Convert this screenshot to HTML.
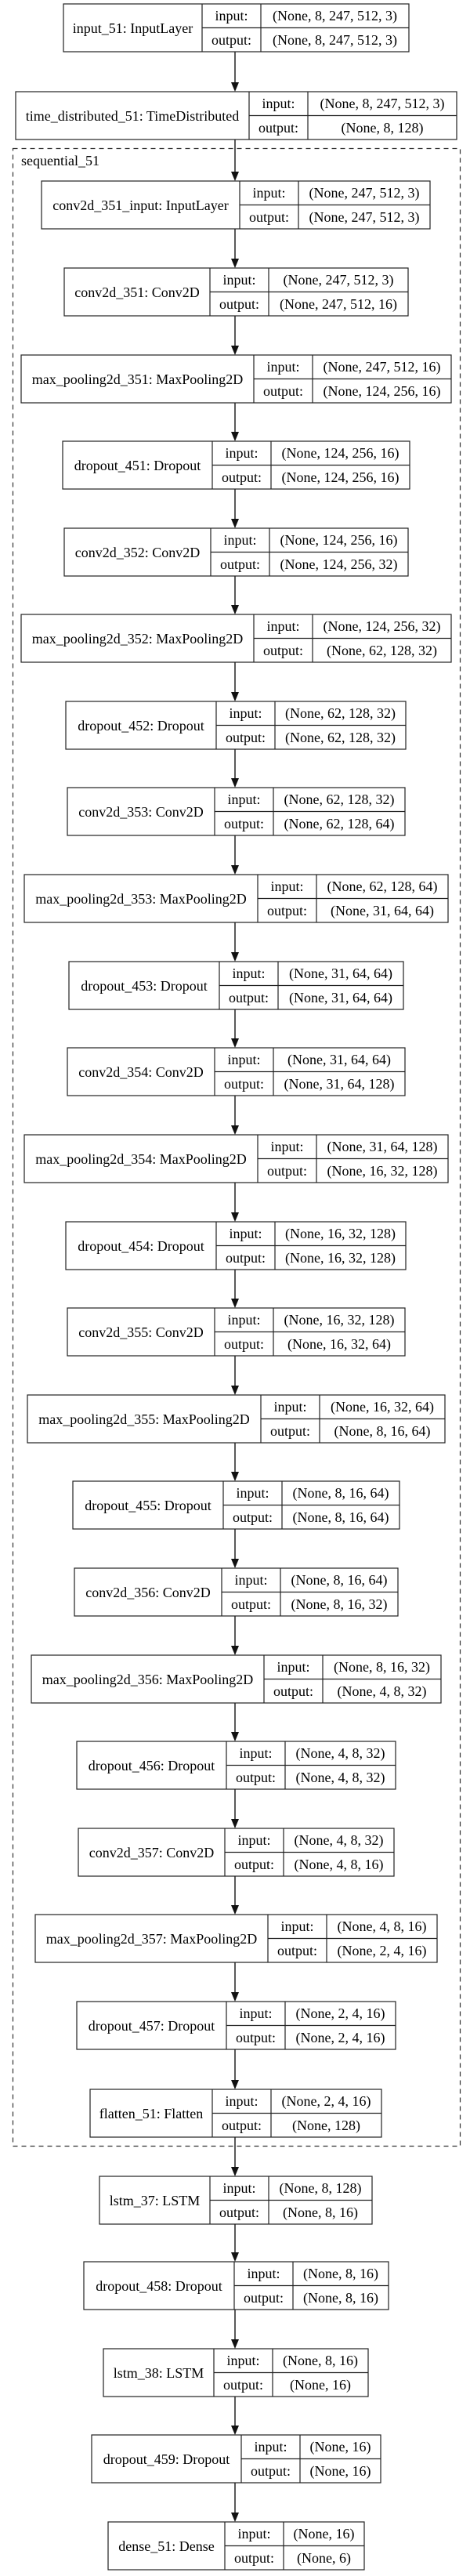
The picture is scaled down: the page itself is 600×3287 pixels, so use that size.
<!DOCTYPE html>
<html><head><meta charset="utf-8"><style>
html,body{margin:0;padding:0;background:#fff}
svg{display:block}
text{font-family:"Liberation Serif",serif;font-size:18px;fill:#000}
.b{fill:#fff;stroke:#222;stroke-width:1.2}
.l{stroke:#222;stroke-width:1.2}
.a{stroke:#222;stroke-width:1.5}
</style></head><body>
<svg width="600" height="3287" viewBox="0 0 600 3287" xmlns="http://www.w3.org/2000/svg">
<rect x="16.5" y="189.5" width="571" height="2549" fill="none" stroke="#333" stroke-width="1.2" stroke-dasharray="6,5"/>
<text x="27" y="211" text-anchor="start">sequential_51</text>

<!-- arrows -->
<g class="arrows">
<line class="a" x1="300" y1="66" x2="300" y2="105"/><polygon points="295,105 305,105 300,117" fill="#111"/>
<line class="a" x1="300" y1="178" x2="300" y2="219"/><polygon points="295,219 305,219 300,231" fill="#111"/>
<line class="a" x1="300" y1="292" x2="300" y2="330"/><polygon points="295,330 305,330 300,342" fill="#111"/>
<line class="a" x1="300" y1="403" x2="300" y2="441"/><polygon points="295,441 305,441 300,453" fill="#111"/>
<line class="a" x1="300" y1="514" x2="300" y2="551"/><polygon points="295,551 305,551 300,563" fill="#111"/>
<line class="a" x1="300" y1="624" x2="300" y2="662"/><polygon points="295,662 305,662 300,674" fill="#111"/>
<line class="a" x1="300" y1="735" x2="300" y2="772"/><polygon points="295,772 305,772 300,784" fill="#111"/>
<line class="a" x1="300" y1="845" x2="300" y2="883"/><polygon points="295,883 305,883 300,895" fill="#111"/>
<line class="a" x1="300" y1="956" x2="300" y2="993"/><polygon points="295,993 305,993 300,1005" fill="#111"/>
<line class="a" x1="300" y1="1066" x2="300" y2="1104"/><polygon points="295,1104 305,1104 300,1116" fill="#111"/>
<line class="a" x1="300" y1="1177" x2="300" y2="1215"/><polygon points="295,1215 305,1215 300,1227" fill="#111"/>
<line class="a" x1="300" y1="1288" x2="300" y2="1325"/><polygon points="295,1325 305,1325 300,1337" fill="#111"/>
<line class="a" x1="300" y1="1398" x2="300" y2="1436"/><polygon points="295,1436 305,1436 300,1448" fill="#111"/>
<line class="a" x1="300" y1="1509" x2="300" y2="1547"/><polygon points="295,1547 305,1547 300,1559" fill="#111"/>
<line class="a" x1="300" y1="1620" x2="300" y2="1657"/><polygon points="295,1657 305,1657 300,1669" fill="#111"/>
<line class="a" x1="300" y1="1730" x2="300" y2="1768"/><polygon points="295,1768 305,1768 300,1780" fill="#111"/>
<line class="a" x1="300" y1="1841" x2="300" y2="1878"/><polygon points="295,1878 305,1878 300,1890" fill="#111"/>
<line class="a" x1="300" y1="1951" x2="300" y2="1989"/><polygon points="295,1989 305,1989 300,2001" fill="#111"/>
<line class="a" x1="300" y1="2062" x2="300" y2="2100"/><polygon points="295,2100 305,2100 300,2112" fill="#111"/>
<line class="a" x1="300" y1="2173" x2="300" y2="2210"/><polygon points="295,2210 305,2210 300,2222" fill="#111"/>
<line class="a" x1="300" y1="2283" x2="300" y2="2321"/><polygon points="295,2321 305,2321 300,2333" fill="#111"/>
<line class="a" x1="300" y1="2394" x2="300" y2="2431"/><polygon points="295,2431 305,2431 300,2443" fill="#111"/>
<line class="a" x1="300" y1="2504" x2="300" y2="2542"/><polygon points="295,2542 305,2542 300,2554" fill="#111"/>
<line class="a" x1="300" y1="2615" x2="300" y2="2654"/><polygon points="295,2654 305,2654 300,2666" fill="#111"/>
<line class="a" x1="300" y1="2727" x2="300" y2="2765"/><polygon points="295,2765 305,2765 300,2777" fill="#111"/>
<line class="a" x1="300" y1="2838" x2="300" y2="2874"/><polygon points="295,2874 305,2874 300,2886" fill="#111"/>
<line class="a" x1="300" y1="2947" x2="300" y2="2985"/><polygon points="295,2985 305,2985 300,2997" fill="#111"/>
<line class="a" x1="300" y1="3058" x2="300" y2="3095"/><polygon points="295,3095 305,3095 300,3107" fill="#111"/>
<line class="a" x1="300" y1="3168" x2="300" y2="3206"/><polygon points="295,3206 305,3206 300,3218" fill="#111"/>
</g>

<!-- box 0 -->
<g transform="translate(0,5)"><rect class="b" x="81" y="0" width="441" height="61"/><line class="l" x1="258" y1="0" x2="258" y2="61"/><line class="l" x1="333" y1="0" x2="333" y2="61"/><line class="l" x1="258" y1="30.5" x2="522" y2="30.5"/>
<text x="169.5" y="37" text-anchor="middle">input_51: InputLayer</text><text x="295.5" y="21" text-anchor="middle">input:</text><text x="295.5" y="52" text-anchor="middle">output:</text><text x="427.5" y="21" text-anchor="middle">(None, 8, 247, 512, 3)</text><text x="427.5" y="52" text-anchor="middle">(None, 8, 247, 512, 3)</text></g>
<!-- box 1 -->
<g transform="translate(0,117)"><rect class="b" x="20" y="0" width="563" height="61"/><line class="l" x1="318" y1="0" x2="318" y2="61"/><line class="l" x1="393" y1="0" x2="393" y2="61"/><line class="l" x1="318" y1="30.5" x2="583" y2="30.5"/>
<text x="169" y="37" text-anchor="middle">time_distributed_51: TimeDistributed</text><text x="355.5" y="21" text-anchor="middle">input:</text><text x="355.5" y="52" text-anchor="middle">output:</text><text x="488" y="21" text-anchor="middle">(None, 8, 247, 512, 3)</text><text x="488" y="52" text-anchor="middle">(None, 8, 128)</text></g>
<!-- box 2 -->
<g transform="translate(0,231)"><rect class="b" x="53" y="0" width="496" height="61"/><line class="l" x1="306" y1="0" x2="306" y2="61"/><line class="l" x1="381" y1="0" x2="381" y2="61"/><line class="l" x1="306" y1="30.5" x2="549" y2="30.5"/>
<text x="179.5" y="37" text-anchor="middle">conv2d_351_input: InputLayer</text><text x="343.5" y="21" text-anchor="middle">input:</text><text x="343.5" y="52" text-anchor="middle">output:</text><text x="465" y="21" text-anchor="middle">(None, 247, 512, 3)</text><text x="465" y="52" text-anchor="middle">(None, 247, 512, 3)</text></g>
<!-- box 3 -->
<g transform="translate(0,342)"><rect class="b" x="82" y="0" width="439" height="61"/><line class="l" x1="268" y1="0" x2="268" y2="61"/><line class="l" x1="343" y1="0" x2="343" y2="61"/><line class="l" x1="268" y1="30.5" x2="521" y2="30.5"/>
<text x="175" y="37" text-anchor="middle">conv2d_351: Conv2D</text><text x="305.5" y="21" text-anchor="middle">input:</text><text x="305.5" y="52" text-anchor="middle">output:</text><text x="432" y="21" text-anchor="middle">(None, 247, 512, 3)</text><text x="432" y="52" text-anchor="middle">(None, 247, 512, 16)</text></g>
<!-- box 4 -->
<g transform="translate(0,453)"><rect class="b" x="27" y="0" width="549" height="61"/><line class="l" x1="324" y1="0" x2="324" y2="61"/><line class="l" x1="399" y1="0" x2="399" y2="61"/><line class="l" x1="324" y1="30.5" x2="576" y2="30.5"/>
<text x="175.5" y="37" text-anchor="middle">max_pooling2d_351: MaxPooling2D</text><text x="361.5" y="21" text-anchor="middle">input:</text><text x="361.5" y="52" text-anchor="middle">output:</text><text x="487.5" y="21" text-anchor="middle">(None, 247, 512, 16)</text><text x="487.5" y="52" text-anchor="middle">(None, 124, 256, 16)</text></g>
<!-- box 5 -->
<g transform="translate(0,563)"><rect class="b" x="80" y="0" width="443" height="61"/><line class="l" x1="271" y1="0" x2="271" y2="61"/><line class="l" x1="346" y1="0" x2="346" y2="61"/><line class="l" x1="271" y1="30.5" x2="523" y2="30.5"/>
<text x="175.5" y="37" text-anchor="middle">dropout_451: Dropout</text><text x="308.5" y="21" text-anchor="middle">input:</text><text x="308.5" y="52" text-anchor="middle">output:</text><text x="434.5" y="21" text-anchor="middle">(None, 124, 256, 16)</text><text x="434.5" y="52" text-anchor="middle">(None, 124, 256, 16)</text></g>
<!-- box 6 -->
<g transform="translate(0,674)"><rect class="b" x="82" y="0" width="439" height="61"/><line class="l" x1="269" y1="0" x2="269" y2="61"/><line class="l" x1="344" y1="0" x2="344" y2="61"/><line class="l" x1="269" y1="30.5" x2="521" y2="30.5"/>
<text x="175.5" y="37" text-anchor="middle">conv2d_352: Conv2D</text><text x="306.5" y="21" text-anchor="middle">input:</text><text x="306.5" y="52" text-anchor="middle">output:</text><text x="432.5" y="21" text-anchor="middle">(None, 124, 256, 16)</text><text x="432.5" y="52" text-anchor="middle">(None, 124, 256, 32)</text></g>
<!-- box 7 -->
<g transform="translate(0,784)"><rect class="b" x="27" y="0" width="549" height="61"/><line class="l" x1="324" y1="0" x2="324" y2="61"/><line class="l" x1="399" y1="0" x2="399" y2="61"/><line class="l" x1="324" y1="30.5" x2="576" y2="30.5"/>
<text x="175.5" y="37" text-anchor="middle">max_pooling2d_352: MaxPooling2D</text><text x="361.5" y="21" text-anchor="middle">input:</text><text x="361.5" y="52" text-anchor="middle">output:</text><text x="487.5" y="21" text-anchor="middle">(None, 124, 256, 32)</text><text x="487.5" y="52" text-anchor="middle">(None, 62, 128, 32)</text></g>
<!-- box 8 -->
<g transform="translate(0,895)"><rect class="b" x="84" y="0" width="434" height="61"/><line class="l" x1="276" y1="0" x2="276" y2="61"/><line class="l" x1="351" y1="0" x2="351" y2="61"/><line class="l" x1="276" y1="30.5" x2="518" y2="30.5"/>
<text x="180" y="37" text-anchor="middle">dropout_452: Dropout</text><text x="313.5" y="21" text-anchor="middle">input:</text><text x="313.5" y="52" text-anchor="middle">output:</text><text x="434.5" y="21" text-anchor="middle">(None, 62, 128, 32)</text><text x="434.5" y="52" text-anchor="middle">(None, 62, 128, 32)</text></g>
<!-- box 9 -->
<g transform="translate(0,1005)"><rect class="b" x="86" y="0" width="431" height="61"/><line class="l" x1="274" y1="0" x2="274" y2="61"/><line class="l" x1="349" y1="0" x2="349" y2="61"/><line class="l" x1="274" y1="30.5" x2="517" y2="30.5"/>
<text x="180" y="37" text-anchor="middle">conv2d_353: Conv2D</text><text x="311.5" y="21" text-anchor="middle">input:</text><text x="311.5" y="52" text-anchor="middle">output:</text><text x="433" y="21" text-anchor="middle">(None, 62, 128, 32)</text><text x="433" y="52" text-anchor="middle">(None, 62, 128, 64)</text></g>
<!-- box 10 -->
<g transform="translate(0,1116)"><rect class="b" x="31" y="0" width="541" height="61"/><line class="l" x1="329" y1="0" x2="329" y2="61"/><line class="l" x1="404" y1="0" x2="404" y2="61"/><line class="l" x1="329" y1="30.5" x2="572" y2="30.5"/>
<text x="180" y="37" text-anchor="middle">max_pooling2d_353: MaxPooling2D</text><text x="366.5" y="21" text-anchor="middle">input:</text><text x="366.5" y="52" text-anchor="middle">output:</text><text x="488" y="21" text-anchor="middle">(None, 62, 128, 64)</text><text x="488" y="52" text-anchor="middle">(None, 31, 64, 64)</text></g>
<!-- box 11 -->
<g transform="translate(0,1227)"><rect class="b" x="88" y="0" width="427" height="61"/><line class="l" x1="280" y1="0" x2="280" y2="61"/><line class="l" x1="355" y1="0" x2="355" y2="61"/><line class="l" x1="280" y1="30.5" x2="515" y2="30.5"/>
<text x="184" y="37" text-anchor="middle">dropout_453: Dropout</text><text x="317.5" y="21" text-anchor="middle">input:</text><text x="317.5" y="52" text-anchor="middle">output:</text><text x="435" y="21" text-anchor="middle">(None, 31, 64, 64)</text><text x="435" y="52" text-anchor="middle">(None, 31, 64, 64)</text></g>
<!-- box 12 -->
<g transform="translate(0,1337)"><rect class="b" x="86" y="0" width="431" height="61"/><line class="l" x1="274" y1="0" x2="274" y2="61"/><line class="l" x1="349" y1="0" x2="349" y2="61"/><line class="l" x1="274" y1="30.5" x2="517" y2="30.5"/>
<text x="180" y="37" text-anchor="middle">conv2d_354: Conv2D</text><text x="311.5" y="21" text-anchor="middle">input:</text><text x="311.5" y="52" text-anchor="middle">output:</text><text x="433" y="21" text-anchor="middle">(None, 31, 64, 64)</text><text x="433" y="52" text-anchor="middle">(None, 31, 64, 128)</text></g>
<!-- box 13 -->
<g transform="translate(0,1448)"><rect class="b" x="31" y="0" width="541" height="61"/><line class="l" x1="329" y1="0" x2="329" y2="61"/><line class="l" x1="404" y1="0" x2="404" y2="61"/><line class="l" x1="329" y1="30.5" x2="572" y2="30.5"/>
<text x="180" y="37" text-anchor="middle">max_pooling2d_354: MaxPooling2D</text><text x="366.5" y="21" text-anchor="middle">input:</text><text x="366.5" y="52" text-anchor="middle">output:</text><text x="488" y="21" text-anchor="middle">(None, 31, 64, 128)</text><text x="488" y="52" text-anchor="middle">(None, 16, 32, 128)</text></g>
<!-- box 14 -->
<g transform="translate(0,1559)"><rect class="b" x="84" y="0" width="434" height="61"/><line class="l" x1="276" y1="0" x2="276" y2="61"/><line class="l" x1="351" y1="0" x2="351" y2="61"/><line class="l" x1="276" y1="30.5" x2="518" y2="30.5"/>
<text x="180" y="37" text-anchor="middle">dropout_454: Dropout</text><text x="313.5" y="21" text-anchor="middle">input:</text><text x="313.5" y="52" text-anchor="middle">output:</text><text x="434.5" y="21" text-anchor="middle">(None, 16, 32, 128)</text><text x="434.5" y="52" text-anchor="middle">(None, 16, 32, 128)</text></g>
<!-- box 15 -->
<g transform="translate(0,1669)"><rect class="b" x="86" y="0" width="431" height="61"/><line class="l" x1="274" y1="0" x2="274" y2="61"/><line class="l" x1="349" y1="0" x2="349" y2="61"/><line class="l" x1="274" y1="30.5" x2="517" y2="30.5"/>
<text x="180" y="37" text-anchor="middle">conv2d_355: Conv2D</text><text x="311.5" y="21" text-anchor="middle">input:</text><text x="311.5" y="52" text-anchor="middle">output:</text><text x="433" y="21" text-anchor="middle">(None, 16, 32, 128)</text><text x="433" y="52" text-anchor="middle">(None, 16, 32, 64)</text></g>
<!-- box 16 -->
<g transform="translate(0,1780)"><rect class="b" x="35" y="0" width="533" height="61"/><line class="l" x1="333" y1="0" x2="333" y2="61"/><line class="l" x1="408" y1="0" x2="408" y2="61"/><line class="l" x1="333" y1="30.5" x2="568" y2="30.5"/>
<text x="184" y="37" text-anchor="middle">max_pooling2d_355: MaxPooling2D</text><text x="370.5" y="21" text-anchor="middle">input:</text><text x="370.5" y="52" text-anchor="middle">output:</text><text x="488" y="21" text-anchor="middle">(None, 16, 32, 64)</text><text x="488" y="52" text-anchor="middle">(None, 8, 16, 64)</text></g>
<!-- box 17 -->
<g transform="translate(0,1890)"><rect class="b" x="93" y="0" width="417" height="61"/><line class="l" x1="285" y1="0" x2="285" y2="61"/><line class="l" x1="360" y1="0" x2="360" y2="61"/><line class="l" x1="285" y1="30.5" x2="510" y2="30.5"/>
<text x="189" y="37" text-anchor="middle">dropout_455: Dropout</text><text x="322.5" y="21" text-anchor="middle">input:</text><text x="322.5" y="52" text-anchor="middle">output:</text><text x="435" y="21" text-anchor="middle">(None, 8, 16, 64)</text><text x="435" y="52" text-anchor="middle">(None, 8, 16, 64)</text></g>
<!-- box 18 -->
<g transform="translate(0,2001)"><rect class="b" x="95" y="0" width="413" height="61"/><line class="l" x1="283" y1="0" x2="283" y2="61"/><line class="l" x1="358" y1="0" x2="358" y2="61"/><line class="l" x1="283" y1="30.5" x2="508" y2="30.5"/>
<text x="189" y="37" text-anchor="middle">conv2d_356: Conv2D</text><text x="320.5" y="21" text-anchor="middle">input:</text><text x="320.5" y="52" text-anchor="middle">output:</text><text x="433" y="21" text-anchor="middle">(None, 8, 16, 64)</text><text x="433" y="52" text-anchor="middle">(None, 8, 16, 32)</text></g>
<!-- box 19 -->
<g transform="translate(0,2112)"><rect class="b" x="40" y="0" width="523" height="61"/><line class="l" x1="337" y1="0" x2="337" y2="61"/><line class="l" x1="412" y1="0" x2="412" y2="61"/><line class="l" x1="337" y1="30.5" x2="563" y2="30.5"/>
<text x="188.5" y="37" text-anchor="middle">max_pooling2d_356: MaxPooling2D</text><text x="374.5" y="21" text-anchor="middle">input:</text><text x="374.5" y="52" text-anchor="middle">output:</text><text x="487.5" y="21" text-anchor="middle">(None, 8, 16, 32)</text><text x="487.5" y="52" text-anchor="middle">(None, 4, 8, 32)</text></g>
<!-- box 20 -->
<g transform="translate(0,2222)"><rect class="b" x="98" y="0" width="407" height="61"/><line class="l" x1="289" y1="0" x2="289" y2="61"/><line class="l" x1="364" y1="0" x2="364" y2="61"/><line class="l" x1="289" y1="30.5" x2="505" y2="30.5"/>
<text x="193.5" y="37" text-anchor="middle">dropout_456: Dropout</text><text x="326.5" y="21" text-anchor="middle">input:</text><text x="326.5" y="52" text-anchor="middle">output:</text><text x="434.5" y="21" text-anchor="middle">(None, 4, 8, 32)</text><text x="434.5" y="52" text-anchor="middle">(None, 4, 8, 32)</text></g>
<!-- box 21 -->
<g transform="translate(0,2333)"><rect class="b" x="100" y="0" width="403" height="61"/><line class="l" x1="287" y1="0" x2="287" y2="61"/><line class="l" x1="362" y1="0" x2="362" y2="61"/><line class="l" x1="287" y1="30.5" x2="503" y2="30.5"/>
<text x="193.5" y="37" text-anchor="middle">conv2d_357: Conv2D</text><text x="324.5" y="21" text-anchor="middle">input:</text><text x="324.5" y="52" text-anchor="middle">output:</text><text x="432.5" y="21" text-anchor="middle">(None, 4, 8, 32)</text><text x="432.5" y="52" text-anchor="middle">(None, 4, 8, 16)</text></g>
<!-- box 22 -->
<g transform="translate(0,2443)"><rect class="b" x="45" y="0" width="513" height="61"/><line class="l" x1="342" y1="0" x2="342" y2="61"/><line class="l" x1="417" y1="0" x2="417" y2="61"/><line class="l" x1="342" y1="30.5" x2="558" y2="30.5"/>
<text x="193.5" y="37" text-anchor="middle">max_pooling2d_357: MaxPooling2D</text><text x="379.5" y="21" text-anchor="middle">input:</text><text x="379.5" y="52" text-anchor="middle">output:</text><text x="487.5" y="21" text-anchor="middle">(None, 4, 8, 16)</text><text x="487.5" y="52" text-anchor="middle">(None, 2, 4, 16)</text></g>
<!-- box 23 -->
<g transform="translate(0,2554)"><rect class="b" x="98" y="0" width="407" height="61"/><line class="l" x1="289" y1="0" x2="289" y2="61"/><line class="l" x1="364" y1="0" x2="364" y2="61"/><line class="l" x1="289" y1="30.5" x2="505" y2="30.5"/>
<text x="193.5" y="37" text-anchor="middle">dropout_457: Dropout</text><text x="326.5" y="21" text-anchor="middle">input:</text><text x="326.5" y="52" text-anchor="middle">output:</text><text x="434.5" y="21" text-anchor="middle">(None, 2, 4, 16)</text><text x="434.5" y="52" text-anchor="middle">(None, 2, 4, 16)</text></g>
<!-- box 24 -->
<g transform="translate(0,2666)"><rect class="b" x="115" y="0" width="372" height="61"/><line class="l" x1="271" y1="0" x2="271" y2="61"/><line class="l" x1="346" y1="0" x2="346" y2="61"/><line class="l" x1="271" y1="30.5" x2="487" y2="30.5"/>
<text x="193" y="37" text-anchor="middle">flatten_51: Flatten</text><text x="308.5" y="21" text-anchor="middle">input:</text><text x="308.5" y="52" text-anchor="middle">output:</text><text x="416.5" y="21" text-anchor="middle">(None, 2, 4, 16)</text><text x="416.5" y="52" text-anchor="middle">(None, 128)</text></g>
<!-- box 25 -->
<g transform="translate(0,2777)"><rect class="b" x="127" y="0" width="348" height="61"/><line class="l" x1="268" y1="0" x2="268" y2="61"/><line class="l" x1="343" y1="0" x2="343" y2="61"/><line class="l" x1="268" y1="30.5" x2="475" y2="30.5"/>
<text x="197.5" y="37" text-anchor="middle">lstm_37: LSTM</text><text x="305.5" y="21" text-anchor="middle">input:</text><text x="305.5" y="52" text-anchor="middle">output:</text><text x="409" y="21" text-anchor="middle">(None, 8, 128)</text><text x="409" y="52" text-anchor="middle">(None, 8, 16)</text></g>
<!-- box 26 -->
<g transform="translate(0,2886)"><rect class="b" x="107" y="0" width="389" height="61"/><line class="l" x1="299" y1="0" x2="299" y2="61"/><line class="l" x1="374" y1="0" x2="374" y2="61"/><line class="l" x1="299" y1="30.5" x2="496" y2="30.5"/>
<text x="203" y="37" text-anchor="middle">dropout_458: Dropout</text><text x="336.5" y="21" text-anchor="middle">input:</text><text x="336.5" y="52" text-anchor="middle">output:</text><text x="435" y="21" text-anchor="middle">(None, 8, 16)</text><text x="435" y="52" text-anchor="middle">(None, 8, 16)</text></g>
<!-- box 27 -->
<g transform="translate(0,2997)"><rect class="b" x="132" y="0" width="338" height="61"/><line class="l" x1="273" y1="0" x2="273" y2="61"/><line class="l" x1="348" y1="0" x2="348" y2="61"/><line class="l" x1="273" y1="30.5" x2="470" y2="30.5"/>
<text x="202.5" y="37" text-anchor="middle">lstm_38: LSTM</text><text x="310.5" y="21" text-anchor="middle">input:</text><text x="310.5" y="52" text-anchor="middle">output:</text><text x="409" y="21" text-anchor="middle">(None, 8, 16)</text><text x="409" y="52" text-anchor="middle">(None, 16)</text></g>
<!-- box 28 -->
<g transform="translate(0,3107)"><rect class="b" x="117" y="0" width="369" height="61"/><line class="l" x1="308" y1="0" x2="308" y2="61"/><line class="l" x1="383" y1="0" x2="383" y2="61"/><line class="l" x1="308" y1="30.5" x2="486" y2="30.5"/>
<text x="212.5" y="37" text-anchor="middle">dropout_459: Dropout</text><text x="345.5" y="21" text-anchor="middle">input:</text><text x="345.5" y="52" text-anchor="middle">output:</text><text x="434.5" y="21" text-anchor="middle">(None, 16)</text><text x="434.5" y="52" text-anchor="middle">(None, 16)</text></g>
<!-- box 29 -->
<g transform="translate(0,3218)"><rect class="b" x="138" y="0" width="327" height="61"/><line class="l" x1="287" y1="0" x2="287" y2="61"/><line class="l" x1="362" y1="0" x2="362" y2="61"/><line class="l" x1="287" y1="30.5" x2="465" y2="30.5"/>
<text x="212.5" y="37" text-anchor="middle">dense_51: Dense</text><text x="324.5" y="21" text-anchor="middle">input:</text><text x="324.5" y="52" text-anchor="middle">output:</text><text x="413.5" y="21" text-anchor="middle">(None, 16)</text><text x="413.5" y="52" text-anchor="middle">(None, 6)</text></g>
</svg>
</body></html>
